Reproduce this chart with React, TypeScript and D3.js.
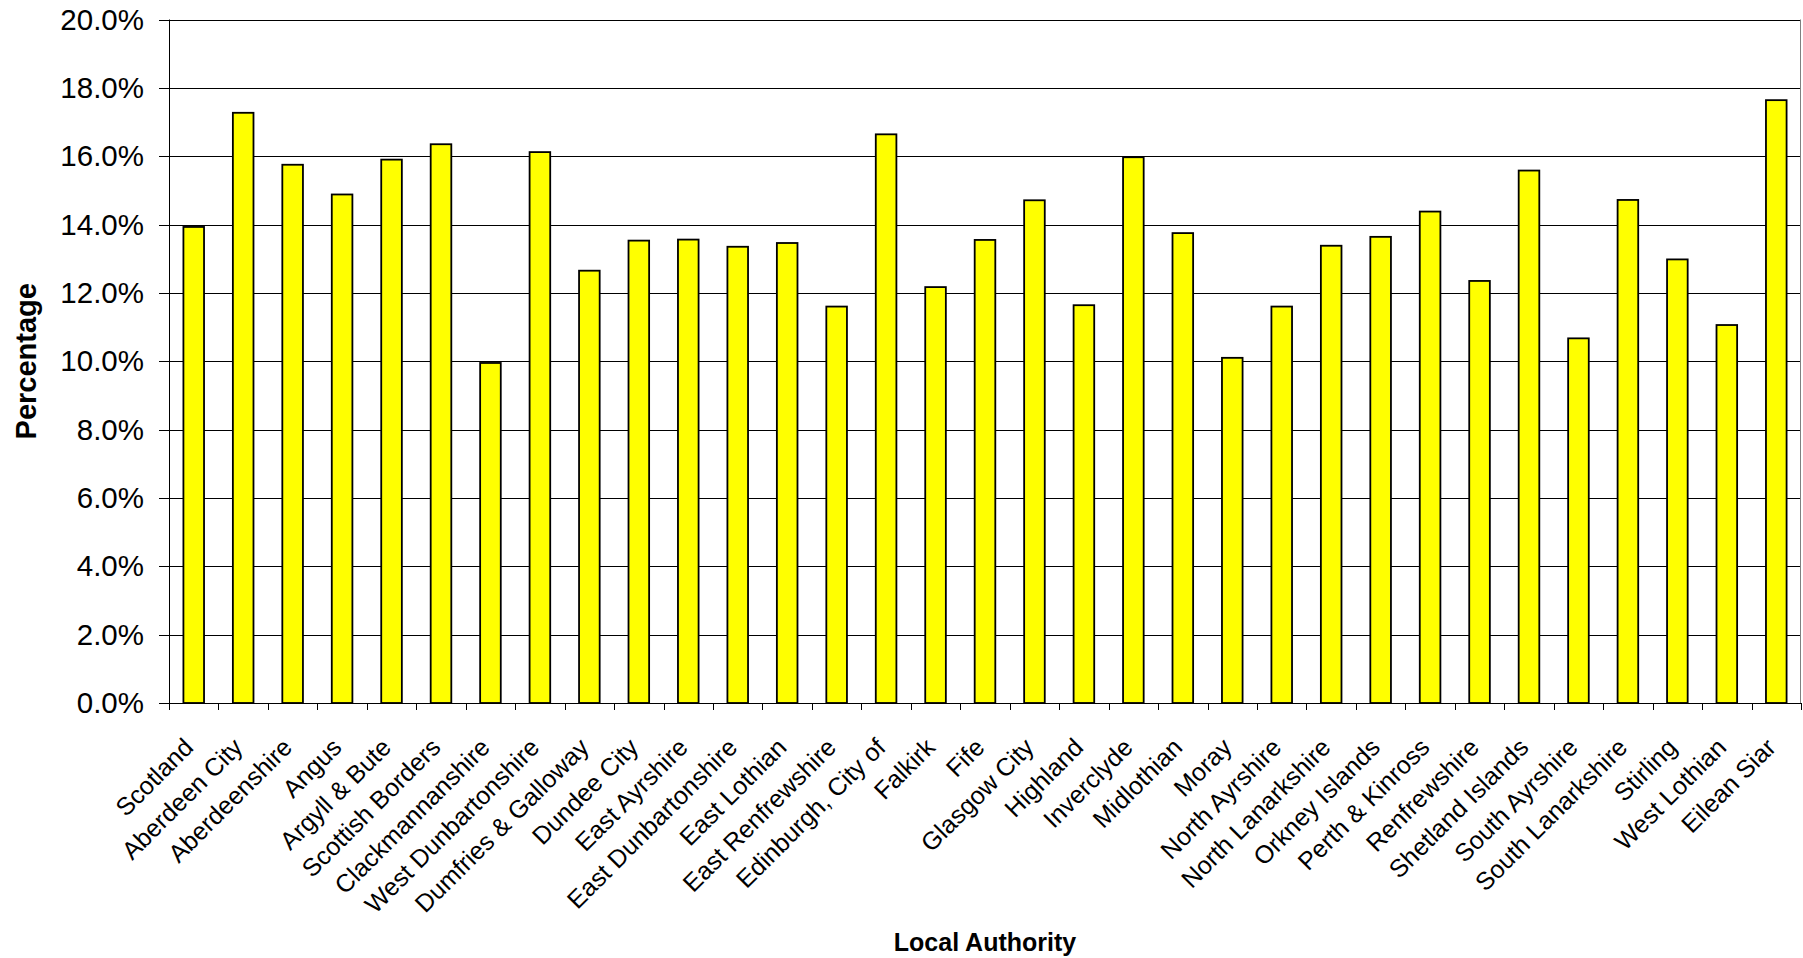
import React from "react";
import * as d3 from "d3";

const categories: string[] = [
  "Scotland", "Aberdeen City", "Aberdeenshire", "Angus", "Argyll & Bute",
  "Scottish Borders", "Clackmannanshire", "West Dunbartonshire", "Dumfries & Galloway",
  "Dundee City", "East Ayrshire", "East Dunbartonshire", "East Lothian",
  "East Renfrewshire", "Edinburgh, City of", "Falkirk", "Fife", "Glasgow City",
  "Highland", "Inverclyde", "Midlothian", "Moray", "North Ayrshire",
  "North Lanarkshire", "Orkney Islands", "Perth & Kinross", "Renfrewshire",
  "Shetland Islands", "South Ayrshire", "South Lanarkshire", "Stirling",
  "West Lothian", "Eilean Siar",
];

const percentages: number[] = [
  0.1393, 0.1727, 0.1575, 0.1488, 0.159, 0.1635, 0.0995, 0.1612, 0.1265,
  0.1353, 0.1356, 0.1335, 0.1346, 0.116, 0.1664, 0.1217, 0.1355, 0.1471,
  0.1164, 0.1597, 0.1375, 0.101, 0.116, 0.1338, 0.1364, 0.1438, 0.1235,
  0.1558, 0.1067, 0.1472, 0.1298, 0.1106, 0.1764,
];

const yTicks: number[] = [0, 0.02, 0.04, 0.06, 0.08, 0.1, 0.12, 0.14, 0.16, 0.18, 0.2];

const yTitle = "Percentage";
const xTitle = "Local Authority";

const W = 1803;
const H = 958;
const left = 169;
const right = 1801;
const top = 19.5;
const bottom = 703;
const FONT = "'Liberation Sans', Arial, Helvetica, sans-serif";

export default function App() {
  const x = d3
    .scaleBand<string>()
    .domain(categories)
    .range([left, right])
    .paddingInner(0.583)
    .paddingOuter(0.2915);
  const y = d3.scaleLinear().domain([0, 0.2]).range([bottom, top]);
  const fmt = d3.format(".1%");
  const step = (right - left) / categories.length;

  return (
    <svg
      width={W}
      height={H}
      style={{ position: "absolute", left: 0, top: 0, background: "#fff" }}
      fontFamily={FONT}
    >
      <rect x={0} y={0} width={W} height={H} fill="#fff" />
      {/* gridlines */}
      {yTicks.map((t) => (
        <line
          key={"g" + t}
          x1={left}
          x2={right}
          y1={Math.round(y(t)) + 0.5}
          y2={Math.round(y(t)) + 0.5}
          stroke="#000"
          strokeWidth={1}
        />
      ))}
      {/* right plot border */}
      <line x1={right - 0.5} x2={right - 0.5} y1={y(0.2)} y2={bottom} stroke="#808080" strokeWidth={1} />
      {/* bars */}
      {categories.map((c, i) => (
        <rect
          key={c}
          x={x(c)!}
          y={y(percentages[i])}
          width={x.bandwidth()}
          height={bottom - y(percentages[i])}
          fill="#ffff00"
          stroke="#000"
          strokeWidth={1.8}
        />
      ))}
      {/* y axis */}
      <line x1={left + 0.5} x2={left + 0.5} y1={y(0.2)} y2={bottom + 0.5} stroke="#000" strokeWidth={1} />
      {yTicks.map((t) => (
        <g key={"t" + t}>
          <line
            x1={left - 10}
            x2={left}
            y1={Math.round(y(t)) + 0.5}
            y2={Math.round(y(t)) + 0.5}
            stroke="#000"
          />
          <text
            x={144}
            y={y(t)}
            dy="0.34em"
            textAnchor="end"
            fontSize={29.5}
            fill="#000"
          >
            {fmt(t)}
          </text>
        </g>
      ))}
      {/* x axis */}
      <line x1={left} x2={right} y1={Math.round(bottom) + 0.5} y2={Math.round(bottom) + 0.5} stroke="#000" />
      {d3.range(categories.length + 1).map((i) => (
        <line
          key={"xt" + i}
          x1={Math.round(left + i * step) + 0.5}
          x2={Math.round(left + i * step) + 0.5}
          y1={bottom}
          y2={bottom + 7}
          stroke="#000"
        />
      ))}
      {categories.map((c) => {
        const cx = x(c)! + x.bandwidth() / 2 + 1;
        const cy = 749;
        return (
          <text
            key={"l" + c}
            x={cx}
            y={cy}
            textAnchor="end"
            fontSize={25}
            fill="#000"
            transform={`rotate(-45 ${cx} ${cy})`}
          >
            {c}
          </text>
        );
      })}
      {/* titles */}
      <text
        x={(left + right) / 2}
        y={951}
        textAnchor="middle"
        fontSize={25}
        fontWeight="bold"
        fill="#000"
      >
        {xTitle}
      </text>
      <text
        x={0}
        y={0}
        transform={`translate(36 ${(top + bottom) / 2}) rotate(-90)`}
        textAnchor="middle"
        fontSize={29}
        fontWeight="bold"
        fill="#000"
      >
        {yTitle}
      </text>
    </svg>
  );
}
